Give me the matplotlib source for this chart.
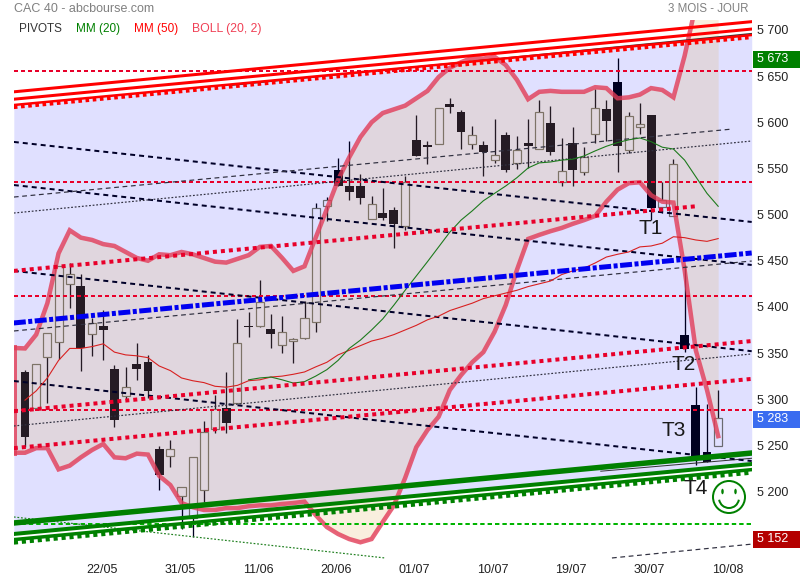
import numpy as np
import matplotlib
matplotlib.use('Agg')
import matplotlib.pyplot as plt
from matplotlib.patches import Circle, Arc, Ellipse, Rectangle

plt.rcParams['font.family'] = ['Liberation Sans', 'DejaVu Sans']

top = [5329.5, 5338, 5372, 5444, 5436, 5423, 5383, 5379, 5333, 5313, 5338, 5340, 5246, 5246, 5205, 5237,
       5264.5, 5289, 5290.5, 5361, 5379, 5405, 5376, 5373, 5365, 5388, 5507, 5516, 5548, 5531, 5531, 5511.5,
       5502, 5505, 5535, 5581, 5575, 5615.5, 5620, 5611, 5586, 5575, 5565, 5586, 5570, 5578, 5611, 5599,
       5547, 5578, 5562, 5615.5, 5614, 5644, 5607, 5598, 5608, 5516, 5555, 5370, 5294, 5243, 5280]
bottom = [5259, 5290.5, 5346, 5362, 5425, 5355, 5371, 5375, 5277.5, 5303.5, 5333, 5309, 5218, 5238.5, 5195, 5171,
          5202, 5268, 5274, 5296, 5378, 5379, 5371, 5359, 5363, 5366, 5384, 5509, 5531, 5524.5, 5518, 5495,
          5496, 5490, 5488, 5563.5, 5573, 5576.5, 5617, 5589.5, 5577, 5568, 5559, 5548, 5556, 5574, 5571, 5568,
          5535, 5548, 5546, 5587, 5601, 5574, 5570, 5595, 5507, 5508, 5498.5, 5354, 5237, 5232, 5249]
high = [5332, 5338, 5372, 5444, 5447.6, 5436, 5388, 5397, 5337, 5335, 5361, 5348, 5249, 5256, 5205, 5237,
        5276, 5305, 5329.5, 5387, 5394, 5429, 5392, 5390, 5366, 5406, 5512.6, 5519, 5561, 5580, 5544, 5520,
        5529, 5508, 5542, 5608, 5580, 5615.5, 5626, 5613, 5596, 5580, 5604, 5589.5, 5585, 5604, 5624, 5618,
        5583, 5595, 5573, 5636, 5624, 5670, 5611, 5621, 5608, 5535, 5560, 5445, 5313, 5295, 5310]
low = [5248, 5290.5, 5296, 5344, 5399, 5331, 5347, 5342, 5270, 5300, 5321, 5301, 5202, 5226.5, 5159, 5151,
       5189, 5263, 5263, 5296, 5367, 5378, 5355, 5350, 5339, 5365, 5373, 5493, 5531, 5516, 5511.5, 5495,
       5494, 5464, 5483, 5563.5, 5555, 5576.5, 5610, 5571, 5571, 5542, 5556, 5546, 5549, 5550.5, 5571, 5565,
       5531, 5531, 5543, 5578, 5580, 5546, 5567, 5587, 5494, 5502, 5498.5, 5351, 5229, 5232, 5249]
# 1 = black candle, 0 = white candle
is_black = [1, 0, 0, 0, 0, 1, 0, 1, 1, 0, 1, 1, 1, 0, 0, 0,
            0, 0, 1, 0, 1, 0, 1, 0, 0, 0, 0, 0, 1, 1, 1, 0,
            1, 1, 0, 1, 1, 0, 1, 1, 0, 1, 0, 1, 0, 1, 0, 1,
            0, 1, 0, 0, 1, 1, 0, 0, 1, 0, 0, 1, 1, 1, 0]

# bollinger bands start one step left of the first candle
boll_up = [5355.5, 5355, 5370, 5404, 5458, 5483, 5475, 5472.5, 5468, 5466, 5459.5, 5453, 5450, 5457, 5456, 5459.5,
           5457, 5453, 5449, 5448, 5452, 5456, 5465, 5466, 5453, 5439, 5444, 5475, 5506, 5537.5, 5562, 5584,
           5600, 5610, 5614, 5618, 5626, 5634, 5649, 5659, 5665, 5670, 5669, 5671, 5662, 5646, 5625, 5633,
           5634, 5633, 5633, 5633, 5638, 5637, 5626, 5627, 5630, 5637, 5635, 5627, 5672, 5727, 5743, 5749]
boll_low = [5242, 5242, 5247, 5247, 5224, 5228, 5237, 5245, 5251.5, 5237, 5236, 5241, 5240, 5217, 5207, 5187.5,
            5183, 5180, 5180, 5182, 5182, 5184, 5185, 5185, 5186.5, 5187.5, 5189, 5174.5, 5161.5, 5154, 5148.5, 5145,
            5148.5, 5167, 5185, 5214.6, 5248, 5266.6, 5281, 5310, 5326, 5340, 5351, 5373, 5402, 5440, 5473.6, 5478,
            5482, 5485.5, 5490, 5494, 5498.5, 5514, 5527, 5534, 5535, 5521, 5514, 5513, 5440, 5353, 5310, 5260]
mm50 = [5299, 5309, 5323, 5342, 5355, 5355, 5357, 5360, 5351, 5348, 5347, 5345, 5336, 5331, 5323, 5320,
        5318, 5314, 5313, 5315, 5320, 5321, 5324, 5325, 5327, 5329.5, 5335, 5340, 5348, 5353, 5358, 5363,
        5366, 5370, 5375, 5380, 5386, 5390, 5396, 5400, 5404, 5409, 5412, 5415, 5418, 5422, 5425, 5428,
        5435, 5439, 5442, 5447.6, 5454, 5457, 5459.5, 5465, 5466, 5469, 5476, 5475, 5472.5, 5471, 5474]
# mm20 starts at candle 20
mm20 = [5321, 5323, 5324, 5321, 5317.5, 5319, 5325, 5332, 5342, 5355, 5364, 5375, 5387, 5402, 5418, 5433.5,
        5449, 5465, 5481, 5494, 5504, 5515, 5523, 5531, 5540, 5550.5, 5556, 5557, 5559, 5560, 5563.5, 5569,
        5574, 5578, 5581, 5583, 5579, 5573, 5571, 5559, 5541, 5523, 5509]

pivots_red = [5655.6, 5535.3, 5411.8, 5288.3]
pivot_green = 5164.8
date_labels = ['22/05', '31/05', '11/06', '20/06', '01/07', '10/07', '19/07', '30/07', '10/08']
date_pos = [7, 14, 21, 28, 35, 42, 49, 56, 63]
price_ticks = [5200, 5250, 5300, 5350, 5400, 5450, 5500, 5550, 5600, 5650, 5700]

# trend lines: first candle index, last candle index, price at both ends
red_chan = [(5633, 5709), (5625, 5701), (5617.7, 5693.5)]
green_chan = [(5165.9, 5241.7), (5154, 5229.8), (5146.4, 5222.2)]
blue_line = (5382.6, 5458.4)
red_dots = [(-1, 60, 5439, 5509), (-1, 65, 5287, 5363), (-1, 65, 5247, 5322)]
black_down = [(5578.7, 5492), (5532, 5445.4), (5439, 5352), (5319.7, 5233)]
grey_dash = [(-1, 63.3, 5519, 5592.7), (-1, 65, 5373.9, 5449.7), (52.5, 65, 5128, 5143)]
grey_dots = [(-1, 65, 5501.7, 5579.7), (-1, 65, 5271, 5349)]
green_dots = (-1, 32.2, 5172.4, 5128)
dark_red_side = (18.3, 65, 5640, 5696)
dark_green_side = (51.5, 65, 5222, 5236)

px = 1 / 100 * 72  # one pixel in points

fig = plt.figure(figsize=(8, 5.8), dpi=100)
ax = fig.add_axes([13.82 / 800, 20 / 580, (751.7 - 13.82) / 800, 540 / 580])
ax.set_xlim(-1, 65)
ax.set_ylim(5125.8, 5710.8)
for s in ax.spines.values():
    s.set_visible(False)

edges = [-1, 65]
ax.fill_between(edges, green_chan[1], red_chan[2], color='#e0e0ff', lw=0, zorder=0)

# candles
x = np.arange(len(top))
for i in x:
    if is_black[i]:
        ax.vlines(i, low[i], high[i], color='#000020', lw=1.3 * px, zorder=2)
        ax.bar(i, top[i] - bottom[i], 0.8, bottom[i], color='#000020', lw=0, zorder=2)
    else:
        ax.vlines(i, top[i], high[i], color='#000020', lw=1.3 * px, zorder=2)
        ax.vlines(i, low[i], bottom[i], color='#000020', lw=1.3 * px, zorder=2)
        ax.bar(i, top[i] - bottom[i], 0.72, bottom[i], facecolor='none', edgecolor='#6a6a70',
               lw=1.2 * px, zorder=2)

# bollinger area goes over the candles
xb = np.arange(-1, len(top))
ax.fill_between(xb, boll_low, boll_up, color=(224 / 255, 165 / 255, 61 / 255), alpha=0.17, lw=0, zorder=3)
ax.plot(xb, boll_up, color='#e23c58', lw=4.5 * px, alpha=0.8, zorder=4, solid_joinstyle='miter')
ax.plot(xb, boll_low, color='#e23c58', lw=4.5 * px, alpha=0.8, zorder=4, solid_joinstyle='miter')
ax.plot([-1, -1], [boll_low[0], boll_up[0]], color='#e23c58', lw=6 * px, alpha=0.8, zorder=4)

# pivots
for p in pivots_red:
    ax.plot(edges, [p, p], color='#e8002a', lw=2 * px, ls=(0, (2, 1.5)), zorder=5)
ax.plot(edges, [pivot_green, pivot_green], color='#00b400', lw=2 * px, ls=(0, (2.2, 1.5)), zorder=5)

# trend lines
ax.plot(dark_red_side[:2], dark_red_side[2:], color='#333333', lw=1.5 * px, zorder=5)
ax.plot(dark_green_side[:2], dark_green_side[2:], color='#333333', lw=1 * px, zorder=5)
ax.plot(edges, red_chan[0], color='#ff0000', lw=3 * px, zorder=6)
ax.plot(edges, red_chan[1], color='#ff0000', lw=3 * px, zorder=6)
ax.plot(edges, np.array(red_chan[2]) + 1, color='#ff0000', lw=2.5 * px, zorder=6)
ax.plot(edges, np.array(red_chan[2]) - 1, color='#ff0000', lw=4.5 * px, ls=(0, (0.8, 0.8)), zorder=6)

ax.plot(edges, green_chan[0], color='#008000', lw=5.5 * px, zorder=6)
ax.plot(edges, green_chan[1], color='#008000', lw=4 * px, zorder=6)
ax.plot(edges, np.array(green_chan[2]) + 1.5, color='#008000', lw=3.5 * px, zorder=6)
ax.plot(edges, np.array(green_chan[2]) - 1, color='#008000', lw=5.5 * px, ls=(0, (0.75, 0.7)), zorder=6)

ax.plot(edges, blue_line, color='#0000f0', lw=5 * px, ls=(0, (2.4, 0.5, 0.8, 0.5)), zorder=6)

for x0, x1, y0, y1 in red_dots:
    ax.plot([x0, x1], [y0, y1], color='#e8002a', lw=4 * px, ls=(0, (1, 1)), zorder=6)
for y0, y1 in black_down:
    ax.plot(edges, [y0, y1], color='#000028', lw=2 * px, ls=(0, (2.5, 2)), zorder=5)
for x0, x1, y0, y1 in grey_dash:
    ax.plot([x0, x1], [y0, y1], color='#303040', lw=1.2 * px, ls=(0, (4, 3)), zorder=5)
for x0, x1, y0, y1 in grey_dots:
    ax.plot([x0, x1], [y0, y1], color='#303040', lw=1.2 * px, ls=(0, (1.5, 1.5)), zorder=5)
ax.plot(green_dots[:2], green_dots[2:], color='#208020', lw=1.2 * px, ls=(0, (1.5, 1.5)), zorder=5)

# moving averages
ax.plot(x, mm50, color='#d82020', lw=1.1 * px, zorder=5)
ax.plot(x[20:], mm20, color='#1c7a1c', lw=1.1 * px, zorder=5)

ax.set_yticks(price_ticks)
ax.set_yticklabels([f'{p // 1000} {p % 1000:03d}' for p in price_ticks], fontsize=9, color='#222222')
ax.yaxis.tick_right()
ax.set_xticks(np.array(date_pos) - 0.15)
ax.set_xticklabels(date_labels, fontsize=9, color='#222222')
ax.tick_params(axis='y', length=0, pad=3.6)
ax.tick_params(axis='x', length=0, pad=3.2)
ax.patch.set_alpha(0)

# overlay in pixels for the annotations
ov = fig.add_axes([0, 0, 1, 1])
ov.set_xlim(0, 800)
ov.set_ylim(580, 0)
ov.axis('off')

ov.text(14, 9, 'CAC 40 - abcbourse.com', color='#808080', fontsize=9, va='center')
ov.text(748, 8.5, '3 MOIS - JOUR', color='#808080', fontsize=8.3, va='center', ha='right')
ov.text(19, 29, 'PIVOTS', color='#333333', fontsize=8.5, va='center')
ov.text(76, 29, 'MM (20)', color='#008000', fontsize=8.5, va='center')
ov.text(134, 29, 'MM (50)', color='#ff0000', fontsize=8.5, va='center')
ov.text(192.5, 29, 'BOLL (20, 2)', color='#f04055', fontsize=8.8, va='center')

for yc, lab, col in [(59.5, '5 673', '#008000'), (419.5, '5 283', '#3a6cf0'), (539.5, '5 152', '#b40000')]:
    ov.add_patch(Rectangle((753, yc - 8.5), 47, 17, facecolor=col, lw=0))
    ov.text(757, yc, lab, color='white', fontsize=9, va='center')

for xt, yt, lab in [(651, 228, 'T1'), (684, 365, 'T2'), (674, 430, 'T3'), (696, 488, 'T4')]:
    ov.text(xt, yt, lab, color='#1a1a1a', fontsize=15, ha='center', va='center')

ov.add_patch(Circle((729, 497), 16, fill=False, edgecolor='#008000', lw=2 * px))
ov.add_patch(Ellipse((722.5, 491.5), 2.5, 5.5, color='#008000', lw=0))
ov.add_patch(Ellipse((735.5, 491.5), 2.5, 5.5, color='#008000', lw=0))
ov.add_patch(Arc((729, 498), 20, 20, theta1=10, theta2=170, edgecolor='#008000', lw=2 * px))

fig.savefig('out.png', dpi=100)
